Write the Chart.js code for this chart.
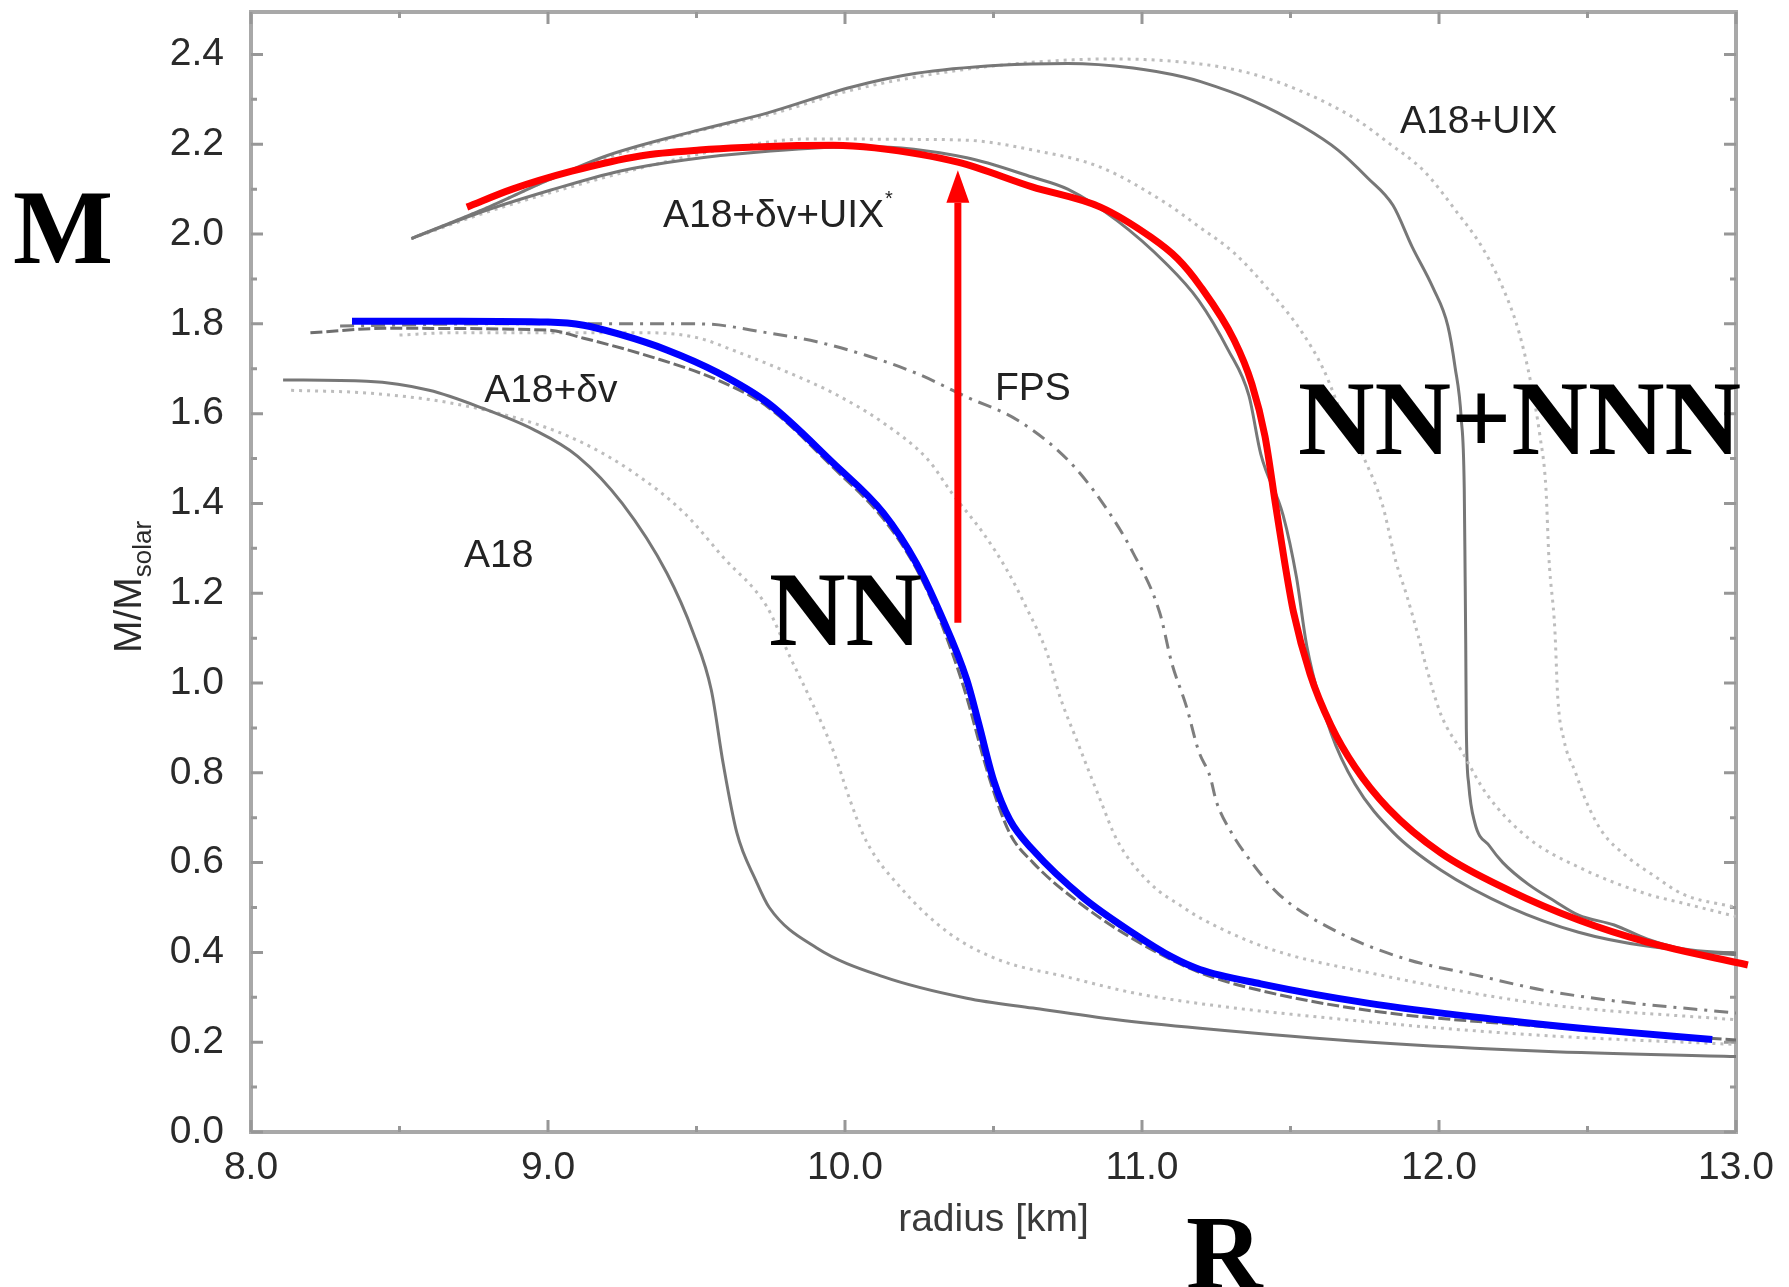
<!DOCTYPE html>
<html>
<head>
<meta charset="utf-8">
<title>Mass-radius curves</title>
<script src="https://cdn.jsdelivr.net/npm/chart.js@4.4.1/dist/chart.umd.min.js"></script>
<style>
  html, body { margin: 0; padding: 0; background: #fff; }
  #wrap { width: 1789px; height: 1287px; }
</style>
</head>
<body>
<div id="wrap"><canvas id="mr" width="1789" height="1287"></canvas></div>
<script>
// --- axis ticks ---
const xTicks = [8, 9, 10, 11, 12, 13];
const yTicks = [0, 0.2, 0.4, 0.6, 0.8, 1.0, 1.2, 1.4, 1.6, 1.8, 2.0, 2.2, 2.4];
const xTickMarks = [8, 8.5, 9, 9.5, 10, 10.5, 11, 11.5, 12, 12.5, 13];
const yTickMarks = [0, 0.1, 0.2, 0.3, 0.4, 0.5, 0.6, 0.7, 0.8, 0.9, 1.0, 1.1, 1.2,
  1.3, 1.4, 1.5, 1.6, 1.7, 1.8, 1.9, 2.0, 2.1, 2.2, 2.3, 2.4];

// --- NN (blue) ---
const nnR = [8.34, 8.7, 9.0, 9.12, 9.24, 9.40, 9.57, 9.74, 9.96, 10.13, 10.24, 10.32,
  10.41, 10.45, 10.50, 10.555, 10.633, 10.80, 10.97, 11.10, 11.195, 11.4, 11.76, 12.15, 12.53, 12.92];
const nnM = [1.806, 1.806, 1.804, 1.797, 1.777, 1.742, 1.692, 1.624, 1.49, 1.378, 1.267, 1.156,
  1.007, 0.91, 0.784, 0.695, 0.628, 0.523, 0.443, 0.39, 0.362, 0.33, 0.287, 0.254, 0.228, 0.206];

// --- NN+NNN (red) ---
const nnnR = [8.727, 8.88, 9.08, 9.31, 9.51, 9.84, 9.96, 10.1, 10.38, 10.63, 10.86, 11.03, 11.12,
  11.195, 11.31, 11.37, 11.414, 11.45, 11.48, 11.51, 11.566, 11.636, 11.717, 11.83, 12.007,
  12.24, 12.47, 12.70, 13.04];
const nnnM = [2.06, 2.10, 2.14, 2.174, 2.187, 2.197, 2.198, 2.192, 2.16, 2.105, 2.06, 1.993, 1.945,
  1.885, 1.764, 1.666, 1.55, 1.396, 1.27, 1.158, 1.02, 0.906, 0.813, 0.72, 0.621,
  0.537, 0.472, 0.423, 0.372];

// --- grey background curves ---
const a18R = [8.108, 8.39, 8.60, 8.78, 8.95, 9.10, 9.25, 9.40, 9.49, 9.55, 9.59, 9.636, 9.70,
  9.745, 9.905, 10.128, 10.41, 10.633, 10.916, 11.195, 11.77, 12.35, 13.0];
const a18M = [1.675, 1.672, 1.652, 1.612, 1.565, 1.505, 1.40, 1.245, 1.11, 0.984, 0.82, 0.666, 0.56,
  0.50, 0.41, 0.346, 0.298, 0.276, 0.25, 0.231, 0.200, 0.180, 0.168];

const a18bR = [8.135, 8.39, 8.67, 8.95, 9.12, 9.29, 9.46, 9.59, 9.737, 9.815, 9.88, 9.96, 10.017,
  10.07, 10.185, 10.35, 10.52, 10.75, 10.97, 11.195, 11.77, 12.35, 13.0];
const a18bM = [1.652, 1.646, 1.624, 1.579, 1.534, 1.468, 1.378, 1.28, 1.17, 1.058, 0.969, 0.85, 0.739,
  0.65, 0.546, 0.443, 0.383, 0.345, 0.31, 0.286, 0.245, 0.215, 0.195];

const dvR = [8.2, 8.45, 9.0, 9.12, 9.35, 9.57, 9.74, 9.96, 10.13, 10.24, 10.32, 10.40, 10.49,
  10.555, 10.633, 10.80, 10.97, 11.195, 11.4, 11.77, 12.35, 13.0];
const dvM = [1.78, 1.79, 1.786, 1.768, 1.726, 1.675, 1.615, 1.48, 1.365, 1.255, 1.14, 0.99, 0.78,
  0.665, 0.60, 0.505, 0.43, 0.355, 0.315, 0.27, 0.235, 0.205];

const dvbR = [8.5, 8.67, 9.35, 9.51, 9.62, 9.79, 9.96, 10.13, 10.28, 10.36, 10.465, 10.545, 10.61,
  10.68, 10.724, 10.78, 10.86, 10.916, 11.027, 11.14, 11.195, 11.43, 11.77, 12.35, 13.0];
const dvbM = [1.775, 1.78, 1.78, 1.768, 1.742, 1.697, 1.646, 1.579, 1.497, 1.423, 1.334, 1.252, 1.169,
  1.067, 0.969, 0.873, 0.739, 0.65, 0.554, 0.50, 0.477, 0.408, 0.354, 0.285, 0.25];

const fpsR = [8.3, 8.8, 9.51, 9.74, 9.905, 10.07, 10.24, 10.41, 10.58, 10.75, 10.86, 10.97, 11.06,
  11.10, 11.15, 11.19, 11.23, 11.25, 11.30, 11.37, 11.46, 11.66, 11.89, 12.12, 12.35, 12.59, 13.0];
const fpsM = [1.795, 1.80, 1.80, 1.78, 1.76, 1.73, 1.69, 1.637, 1.586, 1.497, 1.408, 1.29, 1.156,
  1.045, 0.947, 0.85, 0.79, 0.737, 0.668, 0.60, 0.53, 0.445, 0.385, 0.35, 0.316, 0.292, 0.265];

const dvuR = [8.54, 8.78, 9.01, 9.24, 9.46, 9.75, 10.07, 10.41, 10.63, 10.75, 10.916, 11.08, 11.19,
  11.29, 11.36, 11.40, 11.475, 11.52, 11.555, 11.636, 11.717, 11.845, 12.007, 12.24, 12.47, 12.70, 13.0];
const dvuM = [1.99, 2.05, 2.098, 2.14, 2.165, 2.185, 2.195, 2.17, 2.127, 2.10, 2.03, 1.935, 1.853,
  1.742, 1.64, 1.51, 1.374, 1.236, 1.082, 0.89, 0.775, 0.668, 0.583, 0.50, 0.445, 0.414, 0.395];

const dvubR = [8.54, 8.80, 9.05, 9.3, 9.6, 9.88, 10.185, 10.41, 10.633, 10.86, 11.08, 11.195, 11.31,
  11.43, 11.54, 11.61, 11.68, 11.75, 11.81, 11.855, 11.89, 11.93, 11.96, 12.007, 12.08, 12.16,
  12.30, 12.47, 12.70, 12.82, 13.0];
const dvubM = [1.99, 2.05, 2.10, 2.145, 2.19, 2.212, 2.211, 2.209, 2.187, 2.149, 2.069, 2.015, 1.958,
  1.873, 1.78, 1.70, 1.588, 1.497, 1.396, 1.27, 1.198, 1.105, 1.029, 0.929, 0.844, 0.753,
  0.655, 0.59, 0.53, 0.51, 0.48];

const uixR = [8.54, 8.80, 9.0, 9.2, 9.51, 9.74, 10.02, 10.24, 10.52, 10.75, 10.97, 11.14, 11.195,
  11.37, 11.54, 11.66, 11.76, 11.845, 11.91, 11.98, 12.03, 12.054, 12.075, 12.085, 12.088, 12.09,
  12.092, 12.10, 12.12, 12.17, 12.215, 12.30, 12.39, 12.47, 12.59, 12.70, 12.82, 13.0];
const uixM = [1.99, 2.06, 2.12, 2.175, 2.232, 2.27, 2.327, 2.358, 2.376, 2.38, 2.37, 2.35, 2.34,
  2.298, 2.24, 2.187, 2.125, 2.064, 1.971, 1.88, 1.795, 1.704, 1.588, 1.434, 1.236, 1.089,
  0.90, 0.775, 0.69, 0.637, 0.60, 0.552, 0.514, 0.483, 0.461, 0.43, 0.408, 0.398];

const uixbR = [8.54, 8.80, 9.0, 9.2, 9.51, 9.74, 10.02, 10.24, 10.55, 10.9, 11.195, 11.37, 11.54,
  11.72, 11.83, 11.95, 12.06, 12.145, 12.215, 12.27, 12.31, 12.34, 12.36, 12.37, 12.39, 12.40,
  12.42, 12.46, 12.495, 12.55, 12.63, 12.73, 12.82, 13.0];
const uixbM = [1.99, 2.06, 2.12, 2.17, 2.23, 2.265, 2.32, 2.35, 2.378, 2.39, 2.379, 2.357, 2.317,
  2.256, 2.203, 2.14, 2.049, 1.971, 1.88, 1.78, 1.666, 1.55, 1.434, 1.28, 1.12, 0.967,
  0.875, 0.80, 0.737, 0.668, 0.615, 0.568, 0.53, 0.50];

// --- arrow (NN -> NN+NNN) ---
const arrowR = [10.38, 10.38];
const arrowM = [1.134, 2.07];
const arrowTip = 2.142;

// --- in-plot labels (data coords) ---
const notes = [
  { text: 'A18+\u03b4v+UIX', sup: '*', x: 9.387, y: 2.015 },
  { text: 'A18+UIX', x: 11.869, y: 2.224 },
  { text: 'A18+\u03b4v', x: 8.785, y: 1.625 },
  { text: 'FPS', x: 10.505, y: 1.63 },
  { text: 'A18', x: 8.717, y: 1.258 }
];

// --- big serif labels (pixel coords) ---
const bigLabels = [
  { text: 'M', x: 13, y: 263 },
  { text: 'R', x: 1186, y: 1288 },
  { text: 'NN', x: 769, y: 645 },
  { text: 'NN+NNN', x: 1298, y: 454 }
];

function pts(xs, ys) {
  return xs.map((v, i) => ({ x: v, y: ys[i] }));
}

function curve(label, xs, ys, color, width, dash) {
  return {
    label,
    data: pts(xs, ys),
    showLine: true,
    borderColor: color,
    borderWidth: width,
    borderDash: dash || [],
    pointRadius: 0,
    fill: false,
    cubicInterpolationMode: 'monotone'
  };
}

const LIGHT = '#bdbdbd';
const DARK = '#777777';

/* ---------------------- frame, inward ticks ---------------------- */
const frame = {
  id: 'frame',
  beforeDatasetsDraw(chart) {
    const { ctx, chartArea: a, scales: { x, y } } = chart;
    ctx.save();
    ctx.strokeStyle = '#a8a8a8';
    ctx.lineWidth = 4;
    ctx.strokeRect(a.left, a.top, a.right - a.left, a.bottom - a.top);

    ctx.strokeStyle = '#979797';
    ctx.lineWidth = 3;
    ctx.beginPath();
    xTickMarks.forEach(v => {
      const px = x.getPixelForValue(v);
      const len = xTicks.includes(v) ? 12 : 6;
      ctx.moveTo(px, a.bottom); ctx.lineTo(px, a.bottom - len);
      ctx.moveTo(px, a.top); ctx.lineTo(px, a.top + len);
    });
    yTickMarks.forEach(v => {
      const py = y.getPixelForValue(v);
      const major = yTicks.some(t => Math.abs(t - v) < 1e-6);
      const len = major ? 12 : 6;
      ctx.moveTo(a.left, py); ctx.lineTo(a.left + len, py);
      ctx.moveTo(a.right, py); ctx.lineTo(a.right - len, py);
    });
    ctx.stroke();
    ctx.restore();
  }
};

/* ---------------------- labels, arrow head, y title ---------------------- */
const annotate = {
  id: 'annotate',
  afterDatasetsDraw(chart) {
    const { ctx, scales: { x, y } } = chart;
    ctx.save();

    // arrow head
    const ax = x.getPixelForValue(arrowR[1]);
    const tip = y.getPixelForValue(arrowTip);
    const base = y.getPixelForValue(arrowM[1]);
    ctx.fillStyle = '#ff0000';
    ctx.beginPath();
    ctx.moveTo(ax, tip);
    ctx.lineTo(ax + 11.5, base);
    ctx.lineTo(ax - 11.5, base);
    ctx.closePath();
    ctx.fill();

    // small curve labels
    ctx.fillStyle = '#222';
    ctx.textBaseline = 'alphabetic';
    ctx.textAlign = 'left';
    notes.forEach(n => {
      const px = x.getPixelForValue(n.x);
      const py = y.getPixelForValue(n.y);
      ctx.font = '39px "Liberation Sans", Arial, sans-serif';
      ctx.fillText(n.text, px, py);
      if (n.sup) {
        const w = ctx.measureText(n.text).width;
        ctx.font = '20px "Liberation Sans", Arial, sans-serif';
        ctx.fillText(n.sup, px + w + 1, py - 22);
      }
    });

    // big serif labels
    ctx.fillStyle = '#000';
    ctx.font = 'bold 106px "Liberation Serif", "Times New Roman", serif';
    bigLabels.forEach(b => ctx.fillText(b.text, b.x, b.y));

    // y axis title M/M_solar
    ctx.translate(141, 653);
    ctx.rotate(-Math.PI / 2);
    ctx.fillStyle = '#2a2a2a';
    ctx.font = '39px "Liberation Sans", Arial, sans-serif';
    ctx.fillText('M/M', 0, 0);
    const w = ctx.measureText('M/M').width;
    ctx.font = '26px "Liberation Sans", Arial, sans-serif';
    ctx.fillText('solar', w, 10);
    ctx.restore();
  }
};

const ctx = document.getElementById('mr').getContext('2d');

new Chart(ctx, {
  type: 'scatter',
  data: {
    datasets: [
      {
        label: 'arrow',
        data: pts(arrowR, arrowM),
        showLine: true,
        borderColor: '#ff0000',
        borderWidth: 7,
        pointRadius: 0,
        tension: 0,
        borderCapStyle: 'butt'
      },
      Object.assign(curve('NN+NNN', nnnR, nnnM, '#ff0000', 7), { clip: false }),
      curve('NN', nnR, nnM, '#0000ff', 7),
      curve('A18+dv+UIX*', dvuR, dvuM, DARK, 3),
      curve('A18+dv+UIX* (b)', dvubR, dvubM, LIGHT, 3, [3, 5]),
      curve('A18+UIX', uixR, uixM, DARK, 3),
      curve('A18+UIX (b)', uixbR, uixbM, LIGHT, 3, [3, 5]),
      curve('FPS', fpsR, fpsM, '#7e7e7e', 3, [14, 7, 3, 7]),
      curve('A18+dv', dvR, dvM, '#6e6e6e', 3, [12, 4]),
      curve('A18+dv (b)', dvbR, dvbM, LIGHT, 3, [3, 5]),
      curve('A18', a18R, a18M, DARK, 3),
      curve('A18 (b)', a18bR, a18bM, LIGHT, 3, [3, 5])
    ]
  },
  options: {
    responsive: false,
    devicePixelRatio: 1,
    animation: false,
    events: [],
    layout: { padding: { top: 12, right: 53, left: 0, bottom: 0 } },
    plugins: { legend: { display: false }, tooltip: { enabled: false } },
    scales: {
      x: {
        type: 'linear',
        min: 8,
        max: 13,
        afterBuildTicks: s => { s.ticks = xTicks.map(v => ({ value: v })); },
        afterFit: s => { s.height = 155; s.paddingLeft = 0; s.paddingRight = 0; },
        grid: { display: false, drawTicks: false },
        border: { display: false },
        ticks: {
          padding: 13,
          color: '#2a2a2a',
          font: { family: '"Liberation Sans", Arial, sans-serif', size: 39 },
          callback: v => Number(v).toFixed(1),
          maxRotation: 0,
          autoSkip: false
        },
        title: {
          display: true,
          text: 'radius [km]',
          color: '#3a3a3a',
          font: { family: '"Liberation Sans", Arial, sans-serif', size: 39 },
          padding: { top: 0, bottom: 43 }
        }
      },
      y: {
        type: 'linear',
        min: 0,
        max: 2.4946,
        afterBuildTicks: s => { s.ticks = yTicks.map(v => ({ value: v })); },
        afterFit: s => { s.width = 251; s.paddingTop = 0; s.paddingBottom = 0; },
        grid: { display: false, drawTicks: false },
        border: { display: false },
        ticks: {
          padding: 27,
          color: '#2a2a2a',
          font: { family: '"Liberation Sans", Arial, sans-serif', size: 39 },
          callback: v => Number(v).toFixed(1),
          autoSkip: false
        }
      }
    }
  },
  plugins: [frame, annotate]
});
</script>
</body>
</html>
